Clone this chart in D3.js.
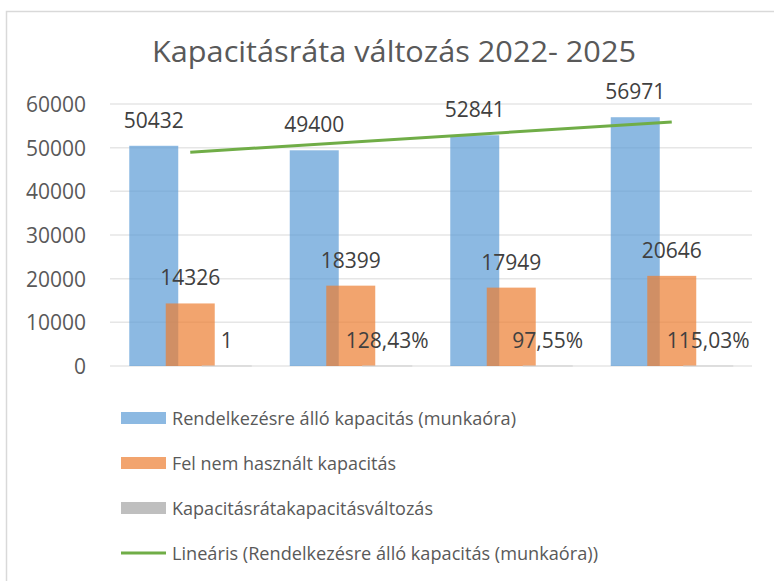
<html>
<head>
    <title>Kapacitásráta változás 2022- 2025</title>
    <style type="text/css">
        body{
            margin: 0;
            background-color: #fff;
        }
        svg text{
            font-family: 'Open Sans', sans-serif;
        }
        .grid line{
            stroke: #e6e6e6;
            stroke-width: 1.5px;
        }
        .axis text{
            fill: #595959;
            font-size: 21px;
        }
        .label{
            fill: #404040;
            font-size: 21px;
        }
        .legend text{
            fill: #595959;
            font-size: 19px;
        }
    </style>
    <script type="text/javascript" src="https://cdn.jsdelivr.net/npm/d3@7"></script>
</head>
<body>
    <div id="chart"></div>

    <script type="text/javascript">
        var years = ['2022', '2023', '2024', '2025'];
        var available = [50432, 49400, 52841, 56971];
        var unused = [14326, 18399, 17949, 20646];
        var rateValues = [1, 1.2843, 0.9755, 1.1503];
        var rateLabels = ['1', '128,43%', '97,55%', '115,03%'];
        var yTicks = [0, 10000, 20000, 30000, 40000, 50000, 60000];
        var seriesNames = ['Rendelkezésre álló kapacitás (munkaóra)', 'Fel nem használt kapacitás',
            'Kapacitásrátakapacitásváltozás', 'Lineáris (Rendelkezésre álló kapacitás (munkaóra))'];

        var width = 774, height = 581;
        var plotLeft = 110, plotRight = 752, plotTop = 104, plotBottom = 366;

        var svg = d3.select('#chart')
            .append('svg')
            .attr('width', width)
            .attr('height', height);

        // chart frame
        svg.append('rect')
            .attr('x', 6.5).attr('y', 11.5)
            .attr('width', 800).attr('height', 600)
            .attr('fill', '#fff')
            .attr('stroke', '#d9d9d9')
            .attr('stroke-width', 1.5);

        svg.append('text')
            .attr('x', 394).attr('y', 62)
            .attr('text-anchor', 'middle')
            .attr('textLength', 484)
            .attr('lengthAdjust', 'spacingAndGlyphs')
            .style('font-size', '30px')
            .style('fill', '#595959')
            .text('Kapacitásráta változás 2022- 2025');

        var xScale = d3.scaleBand().domain(years).range([plotLeft, plotRight]);
        var yScale = d3.scaleLinear().domain([0, 60000]).range([plotBottom, plotTop]);

        // three bars per group, each 49 wide, stepping 36.5 (overlap)
        var barW = 49, barStep = 36.5;
        var pad = (xScale.bandwidth() - (barStep * 2 + barW)) / 2;
        function barX(i, k){ return xScale(years[i]) + pad + k * barStep; }

        svg.append('g').attr('class', 'grid')
            .selectAll('line')
            .data(yTicks)
            .enter()
            .append('line')
            .attr('x1', plotLeft).attr('x2', plotRight)
            .attr('y1', function(d){ return yScale(d); })
            .attr('y2', function(d){ return yScale(d); });

        var yAxis = d3.axisLeft(yScale).tickValues(yTicks).tickSize(0).tickPadding(0).tickFormat(d3.format('d'));
        var yAxisG = svg.append('g')
            .attr('class', 'axis')
            .attr('transform', 'translate(86,0)')
            .call(yAxis);
        yAxisG.select('.domain').remove();
        yAxisG.selectAll('text').attr('dy', '0.36em');

        var series = [
            {values: available, color: '#5B9BD5', k: 0, labels: available.map(String)},
            {values: unused, color: '#ED7D31', k: 1, labels: unused.map(String)},
            {values: rateValues, color: '#BFBFBF', k: 2, labels: rateLabels}
        ];

        series.forEach(function(s){
            svg.append('g')
                .selectAll('rect')
                .data(s.values)
                .enter()
                .append('rect')
                .attr('x', function(d, i){ return barX(i, s.k); })
                .attr('y', function(d){ return yScale(d); })
                .attr('width', barW)
                .attr('height', function(d){ return plotBottom - yScale(d); })
                .attr('fill', s.color)
                .attr('fill-opacity', s.k == 2 ? 1 : 0.7)
                .attr('stroke', s.k == 2 ? '#cfcfcf' : 'none')
                .attr('stroke-width', 1);
        });

        // trend line (least squares over available capacity)
        var n = available.length;
        var mx = d3.mean(d3.range(n)), my = d3.mean(available);
        var slope = d3.sum(available, function(d, i){ return (i - mx) * (d - my); }) /
            d3.sum(d3.range(n), function(i){ return (i - mx) * (i - mx); });
        var trend = [0, n - 1].map(function(i){ return [i, my + slope * (i - mx)]; });

        svg.append('line')
            .attr('x1', xScale(years[0]) + xScale.bandwidth() / 2)
            .attr('y1', yScale(trend[0][1]))
            .attr('x2', xScale(years[n - 1]) + xScale.bandwidth() / 2)
            .attr('y2', yScale(trend[1][1]))
            .attr('stroke', '#70AD47')
            .attr('stroke-width', 3);

        series.forEach(function(s){
            svg.append('g')
                .selectAll('text')
                .data(s.values)
                .enter()
                .append('text')
                .attr('class', 'label')
                .attr('x', function(d, i){ return barX(i, s.k) + barW / 2; })
                .attr('y', function(d){ return yScale(d) - 18; })
                .attr('text-anchor', 'middle')
                .text(function(d, i){ return s.labels[i]; });
        });

        // legend
        var legendW = [344, 224, 261, 426];
        var legend = svg.append('g').attr('class', 'legend');
        seriesNames.forEach(function(name, i){
            var y = 418 + i * 45;
            if (i < 3) {
                legend.append('rect')
                    .attr('x', 121).attr('y', y - 6)
                    .attr('width', 45).attr('height', 12)
                    .attr('fill', series[i].color)
                    .attr('fill-opacity', i == 2 ? 1 : 0.7);
            } else {
                legend.append('line')
                    .attr('x1', 121).attr('x2', 166)
                    .attr('y1', y).attr('y2', y)
                    .attr('stroke', '#70AD47')
                    .attr('stroke-width', 3);
            }
            legend.append('text')
                .attr('x', 172).attr('y', y)
                .attr('dy', '0.35em')
                .attr('textLength', legendW[i])
                .attr('lengthAdjust', 'spacingAndGlyphs')
                .text(name);
        });
    </script>
</body>
</html>
